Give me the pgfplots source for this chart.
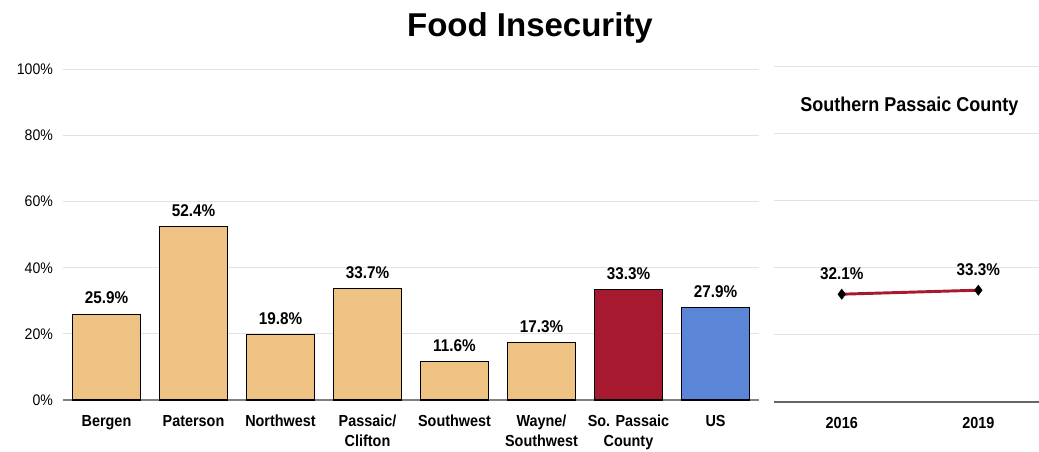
\documentclass[border=0pt]{standalone}
\usepackage{pgfplots}
\pgfplotsset{compat=1.18}
\usepackage{fontspec}
\setmainfont{Liberation Sans}
\newfontfamily\narrow{Liberation Sans}[FakeStretch=0.9]
\newfontfamily\narrowtick{Liberation Sans}[FakeStretch=0.92]
\definecolor{tan}{HTML}{EDC282}
\definecolor{sored}{HTML}{A6192E}
\definecolor{usblue}{HTML}{5B85D6}
\definecolor{gridc}{HTML}{E2E2E2}
\definecolor{basec}{HTML}{808080}
\begin{document}
\begin{tikzpicture}
\useasboundingbox (0,0) rectangle (779.25pt,-339pt);
\node[anchor=base, inner sep=0pt, font=\fontsize{24.75}{28}\selectfont\bfseries] at (397.5pt,-27.5pt) {Food Insecurity};
\node[anchor=base, inner sep=0pt, font=\narrow\bfseries\fontsize{15}{18}\selectfont] at (682pt,-83.8pt) {Southern Passaic County};
\pgfplotsset{
  common/.style={
    scale only axis, anchor=south west,
    ymin=0, ymax=100, ytick={0,20,...,100},
    ymajorgrids, grid style={gridc, line width=0.75pt},
    axis x line*=bottom, axis y line*=left,
    y axis line style={draw=none},
    major tick length=0pt,
    xticklabel style={font=\narrow\bfseries\fontsize{12}{15}\selectfont, align=center, text depth=0pt},
    yticklabel style={font=\narrowtick\fontsize{11.5}{13}\selectfont},
    /pgf/number format/assume math mode=true,
  }
}
\begin{axis}[common,
  at={(47.25pt,-300pt)},
  width=522pt, height=248pt,
  xmin=-0.5, xmax=7.5,
  x axis line style={draw=basec, line width=0.9pt},
  xtick={0,...,7},
  xticklabels={Bergen, Paterson, Northwest, Passaic/\\Clifton, Southwest, Wayne/\\Southwest, So. Passaic\\County, US},
  yticklabel={\pgfmathprintnumber{\tick}\%},
  yticklabel style={xshift=-4pt},
  xticklabel style={yshift=-8pt},
  ybar, bar width=0.79, bar shift=0pt,
  nodes near coords={\pgfmathprintnumber[fixed,fixed zerofill,precision=1]{\pgfplotspointmeta}\%},
  every node near coord/.append style={font=\narrow\bfseries\fontsize{12.75}{15}\selectfont, anchor=south, yshift=4pt, text=black},
]
\addplot[draw=black, line width=0.8pt, fill=tan] coordinates {(0,25.9) (1,52.4) (2,19.8) (3,33.7) (4,11.6) (5,17.3)};
\addplot[draw=black, line width=0.8pt, fill=sored] coordinates {(6,33.3)};
\addplot[draw=black, line width=0.8pt, fill=usblue] coordinates {(7,27.9)};
\end{axis}
\begin{axis}[common,
  at={(580.5pt,-301.3pt)},
  width=198.75pt, height=251.25pt,
  xmin=-0.496, xmax=1.444,
  x axis line style={draw=basec!80!black, line width=1.5pt},
  xtick={0,1}, xticklabels={2016,2019},
  xticklabel style={yshift=-8pt},
  yticklabels={},
]
\addplot[sored, line width=2.2pt, mark=diamond*, mark size=3.8pt,
  mark options={draw=black, fill=black, line width=0.4pt},
  nodes near coords={\pgfmathprintnumber[fixed,fixed zerofill,precision=1]{\pgfplotspointmeta}\%},
  every node near coord/.append style={font=\narrow\bfseries\fontsize{12.75}{15}\selectfont, anchor=south, yshift=7pt, text=black},
] coordinates {(0,32.1) (1,33.3)};
\end{axis}
\end{tikzpicture}
\end{document}
